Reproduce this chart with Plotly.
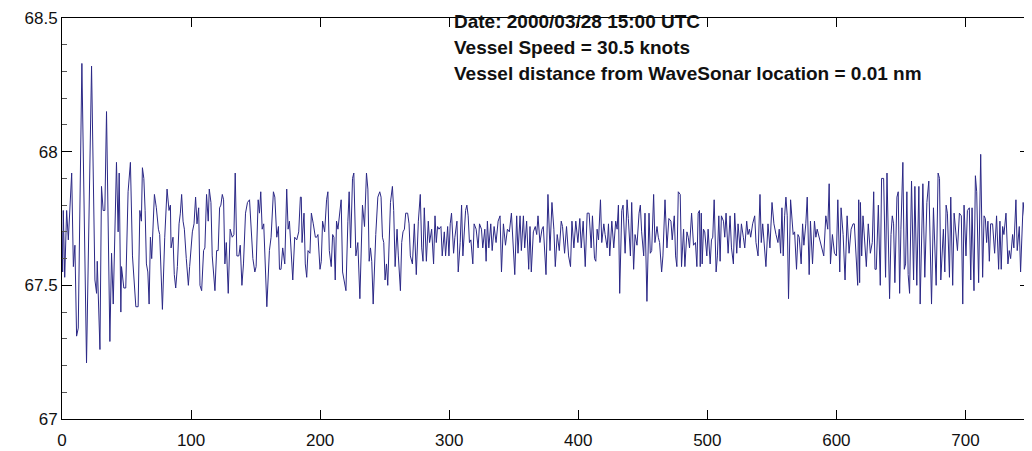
import plotly.graph_objects as go

x_vals = [
    0, 0.5, 1.0, 2.1, 3.6, 4.9, 7.5, 8.8, 10.0, 11.3, 12.6, 15.4, 19.0, 22.9, 25.5, 26.8, 27.3, 29.4, 30.6, 31.9,
    33.2, 34.5, 37.1, 38.4, 39.7, 40.9, 42.2, 43.5, 44.3, 45.6, 46.1, 47.9, 49.4, 51.2, 53.0, 54.6, 56.4, 57.2, 59.0, 60.3,
    61.5,
    62.3, 63.4, 64.4, 65.4, 66.5, 67.5, 68.5, 69.5, 71.6, 73.1, 74.7, 75.7, 77.8, 79.6, 81.4, 82.9, 84.0, 84.5, 86.0, 87.0,
    88.1, 89.4, 90.7, 91.7, 92.7, 93.8, 94.8, 96.3, 97.9, 98.9, 101.0, 102.3, 103.5, 104.6, 105.9, 106.9, 108.2, 109.7, 110.7, 112.0,
    113.3, 114.1, 115.4, 116.4, 118.5, 119.8, 121.0, 122.1, 123.1,
    124.2, 125.2, 126.2, 127.3, 128.8, 130.3, 131.9, 133.2, 134.2, 135.5, 137.0, 138.1, 139.4, 140.6, 142.2, 143.7, 145.3, 146.8,
    147.9, 149.4, 150.4, 152.0, 153.0, 154.0, 155.1, 156.3, 158.7, 160.7, 162.0, 163.8, 164.9, 166.4, 167.7, 168.5, 169.7, 171.0,
    172.6, 174.1, 175.2, 176.2, 177.5, 178.8, 180.3, 181.9, 183.4, 184.7,
    185.4, 186.0, 187.5, 188.5, 189.6, 190.6, 192.1, 193.2, 194.7, 196.3, 197.3, 198.3, 199.9, 200.9, 201.9, 203.5, 205.0, 206.0,
    207.1, 208.6, 209.7, 210.7, 211.7, 212.7, 213.8, 215.3, 216.3, 217.4, 218.9, 220.0, 221.5, 222.5, 223.6, 225.1, 226.1, 227.7,
    229.2, 230.8, 232.8, 234.4, 235.9, 237.0, 238.0, 239.0, 240.0, 241.1, 243.1, 244.7, 246.2,
    247.2, 248.3, 249.3, 250.3, 251.4, 252.4, 253.4, 254.5, 256.0, 257.0, 258.1, 259.6, 260.6, 262.2, 263.2, 264.2, 265.3, 266.3,
    267.8, 268.9, 269.9, 271.5, 273.0, 274.5, 276.1, 277.6, 278.7, 279.7, 280.7, 282.3, 283.8, 284.8, 286.4, 287.9, 289.0, 290.0,
    291.0, 292.1, 293.6, 294.6, 296.2, 297.2, 298.8, 299.8, 300.8, 301.8, 303.4, 304.4, 306.0, 307.0, 308.5,
    309.6, 310.6, 311.6, 312.7, 313.7, 314.7, 315.7, 316.8, 318.3, 319.3, 320.9, 322.4, 323.5, 325.0, 326.0, 327.6, 328.6, 329.6,
    330.7, 332.2, 333.3, 334.8, 336.3, 337.9, 339.4, 340.5, 342.0, 343.6, 345.1, 346.6, 348.2, 349.7, 350.8, 352.3, 353.3, 354.9,
    355.9, 357.5, 358.5, 360.0, 361.6, 362.6, 363.6, 365.2, 366.7, 367.8, 368.8, 370.3,
    371.9, 372.9, 373.9, 375.0, 376.5, 378.1, 379.6, 381.1, 382.2, 383.7, 385.3, 386.8, 387.8, 389.4, 390.9, 392.5, 394.0, 395.1,
    396.6, 398.1, 399.7, 401.2, 402.3, 403.8, 405.4, 406.9, 408.4, 410.0, 411.0, 412.6, 413.6, 414.6, 415.7, 417.2, 418.2, 419.8,
    420.8, 422.4, 423.4, 424.4, 426.0, 427.5, 429.0, 430.1, 431.1, 432.1,
    433.7, 434.7, 436.3, 437.8, 438.8, 440.4, 441.4, 442.9, 444.0, 445.5, 447.1, 448.1, 449.1, 450.7, 451.7, 453.2, 454.8, 455.8,
    456.9, 458.4, 459.4, 461.0, 462.0, 463.0, 464.6, 465.6, 467.2, 468.7, 470.2, 471.8, 472.8, 474.4, 475.4, 476.4, 477.5, 479.0,
    480.0, 481.6, 482.6, 484.2, 485.2, 486.2, 487.8, 489.3, 490.8, 491.9, 492.9, 493.9,
    494.5, 495.3, 496.0, 497.0, 498.0, 499.6, 500.6, 502.2, 503.2, 504.2, 505.3, 506.8, 507.8, 508.9, 509.9, 510.9, 512.5, 513.5,
    514.5, 516.1, 517.6, 518.7, 520.2, 521.2, 522.8, 523.8, 525.3, 526.4, 527.9, 529.0, 530.5, 531.5, 532.6, 533.6, 535.1, 536.7,
    537.7, 539.3, 540.8, 541.8, 542.9, 543.9, 545.4, 547.0, 548.5, 550.1, 551.6, 553.2, 554.7, 555.7,
    556.8, 557.8, 558.8, 559.9, 560.9, 561.9, 562.9, 564.5, 565.5, 566.5, 567.6, 569.1, 570.2, 571.2, 572.7, 573.8, 574.8, 576.3,
    577.4, 578.9, 579.9, 581.5, 583.0, 584.1, 585.1, 586.1, 587.7, 589.2, 590.2, 591.8, 593.3, 594.4, 595.4, 596.9, 598.5, 600.0,
    601.1, 602.6, 603.6, 605.2, 606.7, 608.3, 609.8, 611.4, 612.9, 613.9, 615.5, 616.5, 617.3,
    618.0, 618.6, 619.6, 620.6, 621.7, 623.2, 624.7, 626.3, 627.8, 628.9, 629.9, 630.9, 632.5, 634.0, 635.0, 636.6, 638.1, 639.2,
    641.2, 642.3, 643.3, 644.3, 645.3, 646.9, 647.9, 649.0, 650.0, 651.5, 652.6, 653.6, 654.6, 655.6, 656.7, 658.2, 659.8, 660.8,
    662.3, 663.9, 664.9, 667.0, 668.5, 670.1, 671.6, 672.6, 673.7, 675.2, 677.3, 678.8, 679.9,
    680.9, 681.9, 682.9, 684.0, 685.0, 686.0, 687.6, 688.6, 690.1, 691.2, 692.7, 693.8, 695.3, 696.8, 697.9, 698.9, 700.4, 701.5,
    703.0, 704.1, 705.1, 706.6, 707.7, 708.7, 710.2, 711.8, 713.3, 714.4, 715.4, 716.4, 717.4, 718.5, 719.5, 721.0, 722.6, 724.1,
    725.7, 726.7, 727.7, 728.8, 729.8, 731.4, 732.9, 733.9, 735.0, 736.5, 737.5, 739.1, 740.1, 741.7, 742.7, 743.7, 744.7, 746.3,
    747.8, 748.8,
]

y_vals = [
    67.70, 67.55, 67.78, 67.53, 67.78, 67.67, 67.92, 67.57, 67.65, 67.31, 67.34, 68.33, 67.21, 68.32, 67.52, 67.47, 67.59, 67.26, 67.87, 67.78,
    67.78, 68.15, 67.29, 67.62, 67.43, 67.76, 67.96, 67.70, 67.92, 67.40, 67.57, 67.49, 67.49, 67.85, 67.96, 67.61, 67.50, 67.42, 67.42, 67.78,
    67.74,
    67.94, 67.90, 67.78, 67.58, 67.55, 67.43, 67.68, 67.60, 67.84, 67.79, 67.71, 67.69, 67.41, 67.68, 67.86, 67.78, 67.80, 67.64, 67.68, 67.54,
    67.49, 67.57, 67.73, 67.77, 67.84, 67.74, 67.71, 67.60, 67.50, 67.57, 67.70, 67.73, 67.83, 67.73, 67.79, 67.50, 67.48, 67.63, 67.64, 67.84,
    67.74, 67.86, 67.81, 67.61, 67.48, 67.63, 67.63, 67.79, 67.80,
    67.84, 67.82, 67.58, 67.66, 67.47, 67.71, 67.68, 67.69, 67.92, 67.61, 67.61, 67.65, 67.50, 67.58, 67.77, 67.81, 67.82, 67.68,
    67.60, 67.55, 67.57, 67.82, 67.77, 67.85, 67.71, 67.73, 67.42, 67.63, 67.68, 67.85, 67.83, 67.68, 67.72, 67.56, 67.56, 67.64,
    67.58, 67.86, 67.71, 67.74, 67.64, 67.52, 67.68, 67.67, 67.70, 67.83,
    67.83, 67.66, 67.77, 67.58, 67.53, 67.63, 67.62, 67.77, 67.73, 67.68, 67.68, 67.69, 67.56, 67.59, 67.74, 67.70, 67.82, 67.85,
    67.63, 67.57, 67.69, 67.68, 67.52, 67.74, 67.71, 67.77, 67.82, 67.55, 67.50, 67.48, 67.74, 67.85, 67.64, 67.90, 67.92, 67.61,
    67.66, 67.45, 67.80, 67.72, 67.92, 67.86, 67.59, 67.64, 67.59, 67.43, 67.69, 67.83, 67.85,
    67.83, 67.68, 67.66, 67.52, 67.58, 67.50, 67.63, 67.81, 67.87, 67.78, 67.57, 67.71, 67.61, 67.48, 67.66, 67.70, 67.71, 67.77,
    67.77, 67.73, 67.61, 67.58, 67.73, 67.54, 67.74, 67.84, 67.64, 67.59, 67.79, 67.59, 67.74, 67.66, 67.71, 67.58, 67.76, 67.66,
    67.72, 67.71, 67.72, 67.61, 67.70, 67.61, 67.72, 67.61, 67.73, 67.77, 67.62, 67.68, 67.74, 67.55, 67.66,
    67.80, 67.61, 67.69, 67.78, 67.80, 67.76, 67.66, 67.67, 67.58, 67.73, 67.71, 67.64, 67.73, 67.71, 67.64, 67.71, 67.59, 67.74,
    67.64, 67.73, 67.63, 67.72, 67.66, 67.74, 67.76, 67.55, 67.73, 67.65, 67.71, 67.70, 67.77, 67.63, 67.54, 67.76, 67.62, 67.76,
    67.63, 67.76, 67.64, 67.74, 67.56, 67.72, 67.55, 67.70, 67.72, 67.69, 67.76, 67.66,
    67.71, 67.72, 67.64, 67.54, 67.84, 67.63, 67.81, 67.71, 67.57, 67.69, 67.63, 67.74, 67.72, 67.62, 67.72, 67.61, 67.57, 67.74,
    67.64, 67.74, 67.66, 67.75, 67.64, 67.74, 67.57, 67.77, 67.77, 67.64, 67.76, 67.60, 67.59, 67.71, 67.67, 67.82, 67.66, 67.73,
    67.69, 67.64, 67.73, 67.61, 67.74, 67.64, 67.74, 67.71, 67.80, 67.47,
    67.78, 67.80, 67.62, 67.82, 67.75, 67.61, 67.81, 67.56, 67.69, 67.65, 67.77, 67.80, 67.70, 67.61, 67.77, 67.44, 67.77, 67.62,
    67.63, 67.84, 67.66, 67.72, 67.68, 67.66, 67.55, 67.61, 67.82, 67.64, 67.75, 67.74, 67.67, 67.76, 67.61, 67.57, 67.85, 67.84,
    67.57, 67.71, 67.57, 67.70, 67.68, 67.64, 67.77, 67.65, 67.66, 67.57, 67.77, 67.78,
    67.57, 67.77, 67.58, 67.71, 67.70, 67.61, 67.71, 67.58, 67.67, 67.68, 67.82, 67.55, 67.61, 67.76, 67.59, 67.76, 67.74, 67.68,
    67.77, 67.62, 67.76, 67.64, 67.58, 67.77, 67.62, 67.73, 67.64, 67.73, 67.68, 67.64, 67.74, 67.69, 67.71, 67.68, 67.73, 67.76,
    67.66, 67.61, 67.84, 67.66, 67.73, 67.66, 67.57, 67.73, 67.64, 67.81, 67.73, 67.69, 67.66, 67.71,
    67.62, 67.79, 67.61, 67.76, 67.83, 67.76, 67.45, 67.82, 67.73, 67.69, 67.70, 67.56, 67.69, 67.68, 67.58, 67.73, 67.65, 67.73,
    67.83, 67.54, 67.74, 67.58, 67.74, 67.68, 67.71, 67.69, 67.67, 67.63, 67.61, 67.76, 67.71, 67.88, 67.58, 67.69, 67.62, 67.61,
    67.82, 67.55, 67.79, 67.69, 67.52, 67.76, 67.62, 67.71, 67.73, 67.73, 67.56, 67.50, 67.82,
    67.51, 67.81, 67.61, 67.76, 67.69, 67.57, 67.73, 67.62, 67.66, 67.85, 67.56, 67.56, 67.80, 67.50, 67.90, 67.90, 67.53, 67.92,
    67.45, 67.69, 67.76, 67.73, 67.51, 67.83, 67.85, 67.47, 67.71, 67.96, 67.56, 67.58, 67.85, 67.54, 67.47, 67.89, 67.52, 67.87,
    67.50, 67.87, 67.43, 67.88, 67.53, 67.81, 67.89, 67.61, 67.43, 67.79, 67.50, 67.92, 67.90,
    67.52, 67.62, 67.71, 67.55, 67.80, 67.77, 67.53, 67.83, 67.50, 67.77, 67.69, 67.63, 67.77, 67.76, 67.43, 67.80, 67.61, 67.78,
    67.79, 67.52, 67.79, 67.48, 67.91, 67.85, 67.51, 67.99, 67.53, 67.76, 67.75, 67.66, 67.74, 67.59, 67.73, 67.73, 67.62, 67.76,
    67.56, 67.74, 67.56, 67.72, 67.69, 67.77, 67.58, 67.63, 67.60, 67.69, 67.64, 67.82, 67.63, 67.72, 67.55, 67.69, 67.81, 67.73,
    67.79, 67.59,
]

x_tick_vals = [0, 100, 200, 300, 400, 500, 600, 700]
y_tick_vals = [67, 67.5, 68, 68.5]
y_tick_text = ["67", "67.5", "68", "68.5"]

info_lines = [
    "Date: 2000/03/28 15:00 UTC",
    "Vessel Speed = 30.5 knots",
    "Vessel distance from WaveSonar location = 0.01 nm",
]
info_y = [68.487, 68.39, 68.293]

n = min(len(x_vals), len(y_vals))

fig = go.Figure()
fig.add_trace(go.Scatter(
    x=x_vals[:n], y=y_vals[:n], mode="lines",
    line=dict(color="#2b2886", width=1),
    showlegend=False, hoverinfo="skip",
))

for txt, yy in zip(info_lines, info_y):
    fig.add_annotation(
        x=302.0, y=yy, xref="x", yref="y", text="<b>" + txt + "</b>",
        showarrow=False, xanchor="left", yanchor="middle",
        font=dict(family="Liberation Sans, Arial, sans-serif", size=19, color="#111111"),
    )

axis_font = dict(family="Liberation Sans, Arial, sans-serif", size=17, color="#111111")

fig.update_layout(
    width=1024, height=443,
    margin=dict(l=54, r=1, t=8, b=31),
    paper_bgcolor="white", plot_bgcolor="white",
    xaxis=dict(
        range=[0, 750], tickvals=x_tick_vals, ticks="inside", ticklen=9, tickwidth=1,
        tickcolor="black", showline=True, linecolor="black", linewidth=1, mirror="ticks",
        showgrid=False, zeroline=False, tickfont=axis_font, ticklabelstandoff=6,
        ticklabeloverflow="allow",
    ),
    yaxis=dict(
        range=[67, 68.5], tickvals=y_tick_vals, ticktext=y_tick_text, ticks="inside", ticklen=10,
        tickwidth=1, tickcolor="black", showline=True, linecolor="black", linewidth=1,
        mirror="ticks", showgrid=False, zeroline=False, tickfont=axis_font,
        ticklabeloverflow="allow",
        minor=dict(dtick=0.1, ticks="inside", ticklen=5, tickcolor="#555555", showgrid=False),
    ),
)

fig.write_html("out.html")
